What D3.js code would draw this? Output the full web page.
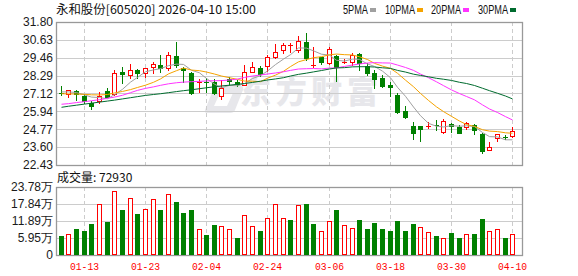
<!DOCTYPE html>
<html><head><meta charset="utf-8">
<script src="https://cdn.jsdelivr.net/npm/d3@7"></script>
<style>body{margin:0;background:#fff;} svg{display:block;}</style>
</head><body><svg id="c" width="578" height="276"></svg>
<script>
const dates = ["01-08","01-09","01-12","01-13","01-14","01-15","01-16","01-19","01-20","01-21","01-22","01-23",
"01-26","01-27","01-28","01-29","01-30","02-02","02-03","02-04","02-05","02-06","02-09","02-10","02-11","02-12","02-13",
"02-24","02-25","02-26","02-27","03-02","03-03","03-04","03-05","03-06","03-09","03-10","03-11","03-12","03-13",
"03-16","03-17","03-18","03-19","03-20","03-23","03-24","03-25","03-26","03-27","03-30","03-31","04-01","04-02","04-03",
"04-07","04-08","04-09","04-10"];
const open  = [27.12,27.06,27.28,26.97,26.51,26.64,27.28,27.08,28.50,28.33,28.65,28.44,28.83,28.98,28.77,29.57,28.77,28.44,27.82,27.89,
27.89,26.95,28.05,27.89,27.67,28.54,28.77,28.94,29.53,29.97,30.24,29.97,30.49,28.96,29.49,29.09,29.57,29.14,29.20,29.68,
28.92,28.48,28.11,27.67,27.02,25.99,24.98,24.98,24.98,25.02,24.61,25.12,24.94,24.90,25.03,24.46,23.41,24.18,24.27,24.35];
const high  = [27.62,27.35,27.34,27.08,26.64,27.21,27.45,28.65,28.87,29.03,28.74,28.79,29.20,29.64,29.85,30.51,28.87,28.54,28.05,28.11,
28.05,28.00,28.18,28.00,28.98,29.20,28.92,29.64,30.36,30.40,30.44,30.88,31.06,30.18,29.53,30.18,29.64,29.35,29.75,29.79,
29.09,28.65,28.33,27.89,27.13,26.30,25.27,25.00,25.27,25.38,25.42,25.16,25.05,25.25,25.12,24.55,23.96,24.46,24.37,24.94];
const low   = [27.02,26.87,26.70,26.47,26.08,26.47,26.87,27.02,27.78,28.11,28.11,28.22,28.48,28.54,28.65,28.87,27.89,27.08,27.23,27.23,
27.08,26.73,27.67,27.63,27.67,28.54,28.26,28.59,29.46,29.75,29.85,29.85,29.31,28.87,29.05,29.03,27.95,29.09,28.98,28.65,
28.33,27.45,27.56,26.95,25.86,25.53,24.11,23.98,24.83,24.72,24.54,24.61,24.51,24.77,24.46,23.24,23.41,24.02,24.13,24.29];
const close = [27.06,27.32,27.08,26.62,26.30,26.95,26.90,28.44,28.37,28.65,28.48,28.77,29.05,28.77,29.64,28.98,28.65,27.17,27.90,27.78,
27.17,27.45,27.96,27.74,28.50,28.83,28.39,29.49,29.85,30.31,30.28,30.58,29.42,28.98,29.18,30.01,28.87,29.16,29.64,29.09,
28.48,28.07,27.61,27.52,25.92,25.55,24.54,24.77,25.01,24.96,25.33,24.98,24.55,25.16,24.72,23.37,23.63,24.46,24.24,24.68];
// volume in 万 (10k)
const volume = [6.79,7.26,9.14,8.43,10.78,17.81,11.48,22.49,15.81,19.91,14.41,16.05,19.56,15.81,21.32,18.51,14.64,15.81,9.02,7.03,
10.54,10.31,9.02,6.09,14.06,10.19,8.43,12.89,17.81,12.89,12.30,17.57,17.92,10.89,8.43,11.95,15.81,10.54,9.37,12.30,
9.14,11.36,9.14,8.43,11.95,8.43,10.89,9.84,7.97,6.68,5.86,7.73,6.09,7.26,7.38,12.65,8.43,9.14,6.09,7.293];
const ma5  = [27.22,27.22,27.18,27.02,26.88,26.85,26.77,27.04,27.39,27.86,28.17,28.54,28.66,28.74,28.94,29.04,29.02,28.64,28.47,28.10,
27.73,27.49,27.65,27.62,27.76,28.10,28.28,28.59,29.01,29.37,29.66,30.10,30.09,29.91,29.69,29.63,29.29,29.24,29.37,29.35,
29.05,28.89,28.58,28.15,27.52,26.93,26.23,25.66,25.16,24.97,24.92,25.01,24.97,25.00,24.95,24.56,24.29,24.27,24.08,24.08];
const ma10 = [27.10,27.09,27.08,27.06,27.03,27.02,27.05,27.15,27.25,27.37,27.51,27.66,27.85,28.07,28.40,28.61,28.78,28.65,28.61,28.52,
28.39,28.26,28.15,28.04,27.93,27.92,27.89,28.12,28.32,28.57,28.88,29.19,29.34,29.46,29.53,29.65,29.70,29.66,29.64,29.52,
29.34,29.09,28.91,28.76,28.44,27.99,27.56,27.12,26.66,26.24,25.93,25.62,25.31,25.08,24.96,24.74,24.65,24.62,24.54,24.51];
const ma20 = [26.41,26.45,26.52,26.58,26.64,26.71,26.80,26.88,27.00,27.17,27.32,27.45,27.55,27.65,27.75,27.82,27.86,27.89,27.91,27.94,
27.95,27.96,28.00,28.06,28.17,28.26,28.33,28.39,28.46,28.54,28.63,28.72,28.74,28.75,28.73,28.78,28.79,28.89,28.98,29.05,
29.11,29.14,29.12,29.11,28.98,28.82,28.63,28.39,28.15,27.88,27.63,27.35,27.11,26.92,26.70,26.37,26.10,25.87,25.60,25.38];
const ma30 = [26.21,26.28,26.35,26.42,26.48,26.55,26.62,26.68,26.76,26.84,26.91,26.99,27.05,27.10,27.17,27.24,27.30,27.36,27.43,27.49,
27.56,27.61,27.66,27.72,27.77,27.84,27.92,28.00,28.07,28.15,28.26,28.37,28.45,28.53,28.62,28.72,28.79,28.81,28.86,28.87,
28.87,28.85,28.80,28.76,28.63,28.52,28.38,28.30,28.21,28.11,28.05,27.97,27.85,27.77,27.64,27.46,27.30,27.13,26.95,26.76];
const priceTicks = [31.80,30.63,29.46,28.29,27.12,25.94,24.77,23.60,22.43];
const volTicks = [23.78,17.84,11.89,5.95,0];
const dateTicks = ["01-13","01-23","02-04","02-24","03-06","03-18","03-30","04-10"];
const maNames = ["5PMA","10PMA","20PMA","30PMA"];
const maColors = ["#a0a0a0","#f5a300","#ff33ff","#006b2e"];
const title = "永和股份[605020] 2026-04-10 15:00";
const volLabel = "成交量: 72930";

const RED = "#ff0000", GREEN = "#008000";
const svg = d3.select("#c");
const L = 56, R = 522, T = 22, B = 165, VT = 187, VB = 255;
const idx = d3.range(dates.length);
const x = d3.scaleBand().domain(idx).range([57, 516]).padding(0);
const cx = i => Math.round(x(i) + x.bandwidth() / 2);
const y = d3.scaleLinear().domain([22.43, 31.80]).range([B, T]);
const yv = d3.scaleLinear().domain([0, 23.78]).range([VB, VT]);
const tickIdx = dateTicks.map(d => dates.indexOf(d));

// watermark
const wm = svg.append("g").attr("fill", "#e7e7eb");
wm.append("path").attr("fill-rule", "evenodd")
  .attr("d", "M216,86 L241,86 Q244,86 243,90 L235,110 Q234,113 230,113 L207,113 Q204,113 205,110 L213,90 Q214,86 216,86 Z M220,93 L214,106 L227,106 L233,93 Z");
wm.append("text").attr("x", 240).attr("y", 103).attr("font-family", "Noto Sans CJK SC")
  .attr("font-size", 31).attr("font-weight", 900).attr("textLength", 138).attr("lengthAdjust", "spacing")
  .text("东方财富");

// gridlines
const grid = svg.append("g");
grid.selectAll("line.h").data(priceTicks.slice(1, -1)).join("line")
  .attr("x1", L).attr("x2", R).attr("y1", d => Math.round(y(d)) + 0.5).attr("y2", d => Math.round(y(d)) + 0.5)
  .attr("stroke", "#cccccc").attr("stroke-width", 1);
grid.selectAll("line.vh").data(volTicks.slice(1, -1)).join("line")
  .attr("x1", L).attr("x2", R).attr("y1", d => Math.round(yv(d)) + 0.5).attr("y2", d => Math.round(yv(d)) + 0.5)
  .attr("stroke", "#cccccc").attr("stroke-width", 1);
tickIdx.forEach(i => {
  [[T, B], [VT, VB]].forEach(([a, b]) => {
    grid.append("line").attr("x1", cx(i) + 0.5).attr("x2", cx(i) + 0.5).attr("y1", a).attr("y2", b)
      .attr("stroke", "#cccccc").attr("stroke-dasharray", "4,3");
  });
});

// frames
[[T, B], [VT, VB]].forEach(([a, b]) => {
  svg.append("rect").attr("x", L + 0.5).attr("y", a + 0.5).attr("width", R - L).attr("height", b - a)
    .attr("fill", "none").attr("stroke", "#999").attr("stroke-width", 1.3);
});

// candles
const cg = svg.append("g");
idx.forEach(i => {
  const up = close[i] >= open[i];
  const c = up ? RED : GREEN;
  const xc = cx(i);
  const top = Math.round(y(Math.max(open[i], close[i])));
  const bot = Math.round(y(Math.min(open[i], close[i])));
  const hi = Math.round(y(high[i])), lo = Math.round(y(low[i]));
  cg.append("line").attr("x1", xc + 0.5).attr("x2", xc + 0.5).attr("y1", hi).attr("y2", top).attr("stroke", c);
  cg.append("line").attr("x1", xc + 0.5).attr("x2", xc + 0.5).attr("y1", bot).attr("y2", lo + 1).attr("stroke", c);
  if (bot - top < 2) {
    cg.append("line").attr("x1", xc - 2).attr("x2", xc + 3).attr("y1", top + 0.5).attr("y2", top + 0.5).attr("stroke", c);
  } else if (up) {
    cg.append("rect").attr("x", xc - 1.5).attr("y", top + 0.5).attr("width", 4).attr("height", bot - top)
      .attr("fill", "#fff").attr("stroke", c);
  } else {
    cg.append("rect").attr("x", xc - 2).attr("y", top).attr("width", 5).attr("height", bot - top + 1).attr("fill", c);
  }
});

// MA lines
[ma5, ma10, ma20, ma30].forEach((arr, k) => {
  svg.append("path").datum(arr)
    .attr("d", d3.line().x((d, i) => cx(i) + 0.5).y(d => y(d)))
    .attr("fill", "none").attr("stroke", maColors[k]).attr("stroke-width", 1);
});

// volume bars
const vg = svg.append("g");
idx.forEach(i => {
  const up = i === 0 ? close[i] >= open[i] : close[i] >= close[i - 1];
  const xc = cx(i);
  const t = Math.round(yv(volume[i]));
  if (up) {
    vg.append("rect").attr("x", xc - 1.5).attr("y", t + 0.5).attr("width", 4).attr("height", VB - t - 1)
      .attr("fill", "#fff").attr("stroke", RED);
  } else {
    vg.append("rect").attr("x", xc - 2).attr("y", t).attr("width", 5).attr("height", VB - t).attr("fill", GREEN);
  }
});

// axes
const fmtP = d3.format(".2f");
const ay = svg.append("g").attr("transform", `translate(${L},0)`)
  .call(d3.axisLeft(y).tickValues(priceTicks).tickSize(0).tickPadding(3).tickFormat(fmtP));
const av = svg.append("g").attr("transform", `translate(${L},0)`)
  .call(d3.axisLeft(yv).tickValues(volTicks).tickSize(0).tickPadding(3).tickFormat(d => d === 0 ? "0" : fmtP(d) + "万"));
[ay, av].forEach(g => {
  g.select(".domain").remove();
  g.selectAll("text").attr("font-family", "Liberation Sans, Arial, sans-serif").attr("font-size", 12).attr("fill", "#1a1a1a");
});
const ax = svg.append("g").attr("transform", `translate(0,${VB})`)
  .call(d3.axisBottom(x).tickValues(tickIdx).tickSize(0).tickPadding(7).tickFormat(i => dates[i]));
ax.select(".domain").remove();
ax.selectAll(".tick").attr("transform", i => `translate(${cx(i) + 0.5},0)`);
ax.selectAll("text").attr("font-family", "Liberation Mono, monospace").attr("font-size", 11).attr("fill", RED)
  .attr("textLength", 29).attr("lengthAdjust", "spacingAndGlyphs");

// title & legend
svg.append("text").attr("x", 56).attr("y", 14).attr("font-family", "Noto Sans CJK SC").attr("font-size", 12)
  .attr("fill", "#111").attr("textLength", 200).attr("lengthAdjust", "spacingAndGlyphs").text(title);
const legX = [343, 385, 431, 478];
const legW = [25, 30, 30, 30];
maNames.forEach((n, k) => {
  svg.append("text").attr("x", legX[k]).attr("y", 14).attr("font-family", "Liberation Sans, Arial, sans-serif")
    .attr("font-size", 12).attr("fill", "#111").attr("textLength", legW[k]).attr("lengthAdjust", "spacingAndGlyphs").text(n);
  svg.append("rect").attr("x", legX[k] + legW[k] + 2).attr("y", 8).attr("width", 6).attr("height", 4).attr("fill", maColors[k]);
});
svg.append("text").attr("x", 57).attr("y", 182).attr("font-family", "Noto Sans CJK SC").attr("font-size", 12)
  .attr("fill", "#111").text(volLabel);
</script></body></html>
